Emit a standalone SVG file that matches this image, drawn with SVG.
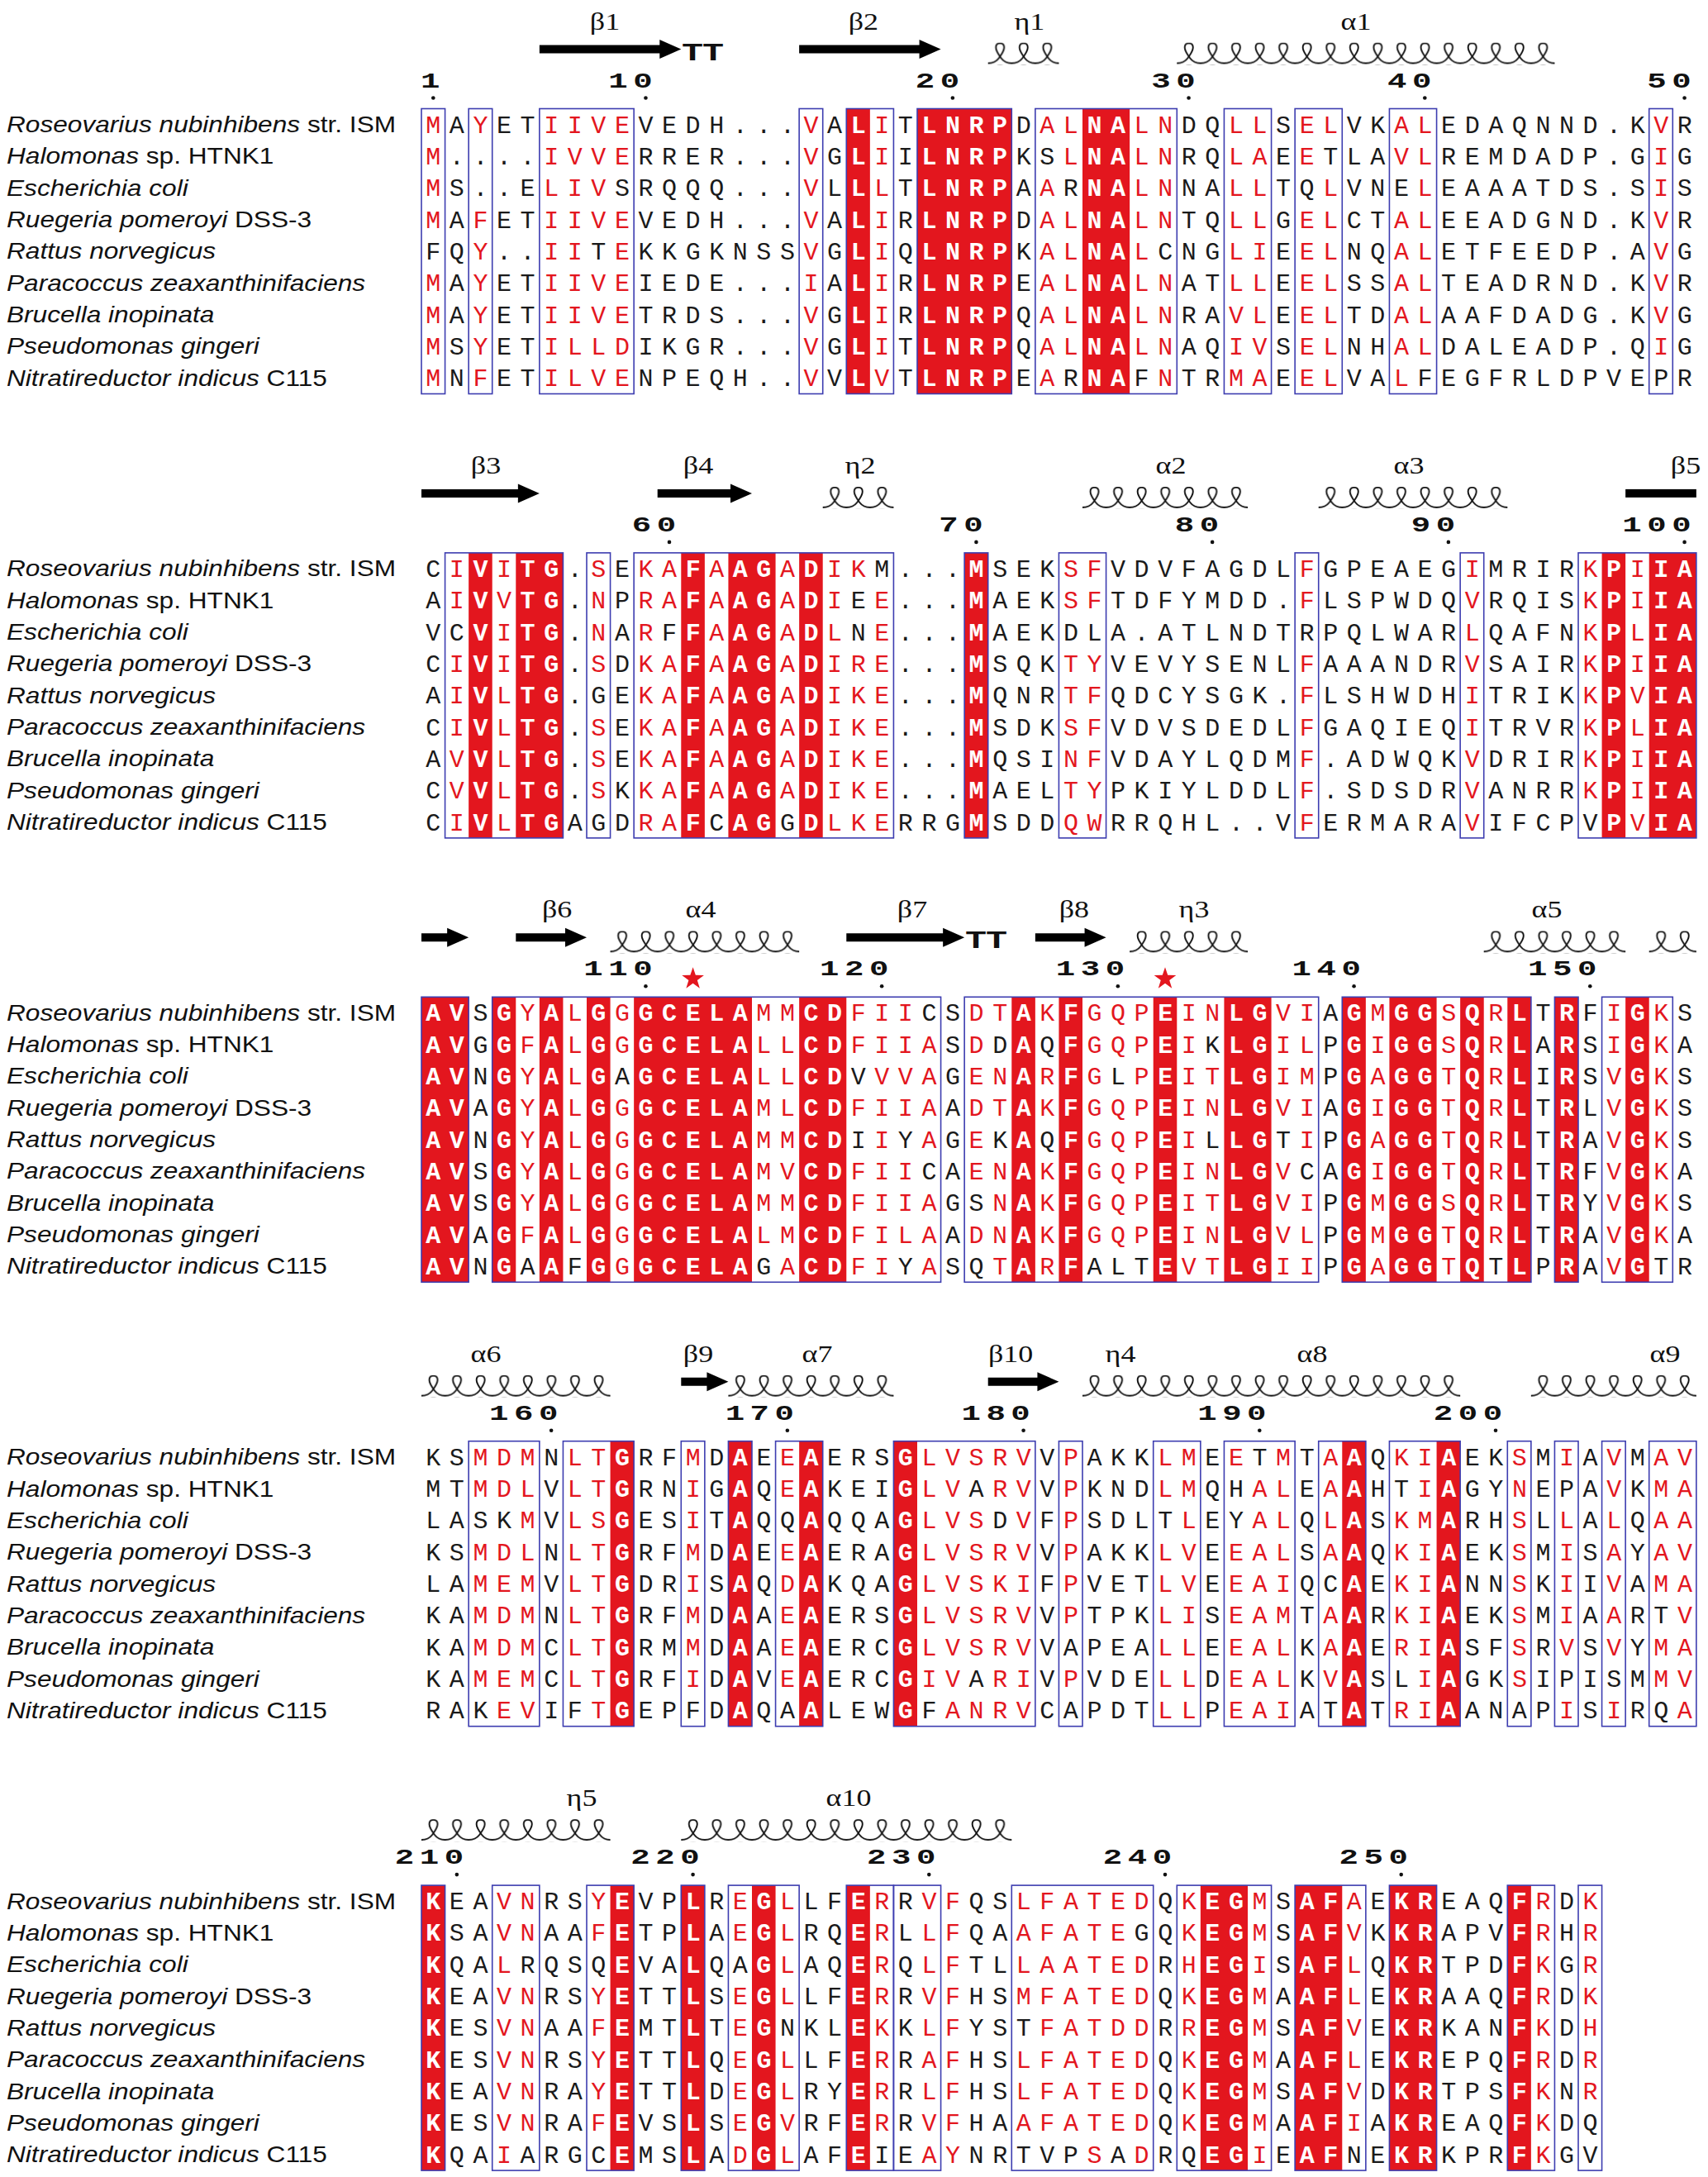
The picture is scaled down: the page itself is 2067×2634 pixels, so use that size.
<svg xmlns="http://www.w3.org/2000/svg" xmlns:xlink="http://www.w3.org/1999/xlink" width="2067" height="2634" viewBox="0 0 2067 2634">
<style>
.nm{font-family:"Liberation Sans",Arial,sans-serif;font-size:28px;fill:#111}
.it{font-style:italic}
.sq{font-family:"Liberation Mono","DejaVu Sans Mono",monospace;font-size:30px;letter-spacing:10.571px;fill:#1a1a1a}
.r{fill:#e3161e}
.w{fill:#fff;font-weight:bold}
.num{font-family:"Liberation Mono","DejaVu Sans Mono",monospace;font-size:26px;font-weight:bold;letter-spacing:4.4px;fill:#111}
.tt{font-family:"Liberation Mono","DejaVu Sans Mono",monospace;font-size:29px;font-weight:bold;text-anchor:middle;fill:#111}
.lbl{font-family:"Liberation Serif","DejaVu Serif",serif;font-size:30px;fill:#111;text-anchor:middle}
.red{fill:#e3161e}
.box{fill:none;stroke:#3d3db0;stroke-width:1.6}
.arr{fill:#000}
.coil{fill:url(#coil)}
.dot{fill:#111}
.star{fill:#e3161e}
</style>
<defs>
<pattern id="coil" patternUnits="userSpaceOnUse" x="510" y="-80" width="28.5714" height="27">
<path d="M0,25 C6,25 10,23 13,19 C16,15 19.5,10 19.5,6 C19.5,2.5 17.5,0.9 14.5,0.9 C11.5,0.9 9.5,2.5 9.5,6 C9.5,10 13,15 16,19 C19,23 23,25 28.6,25" fill="none" stroke="#111" stroke-width="1.9"/>
</pattern>
<path id="star" d="M0,-14 L3.23,-4.45 L13.32,-4.33 L5.23,1.7 L8.23,11.33 L0,5.5 L-8.23,11.33 L-5.23,1.7 L-13.32,-4.33 L-3.23,-4.45 Z"/>
<g id="names">
<text class="nm" y="28.5"><tspan class="it">Roseovarius nubinhibens</tspan> str. ISM</text>
<text class="nm" y="66.83"><tspan class="it">Halomonas</tspan> sp. HTNK1</text>
<text class="nm it" y="105.17">Escherichia coli</text>
<text class="nm" y="143.5"><tspan class="it">Ruegeria pomeroyi</tspan> DSS-3</text>
<text class="nm it" y="181.83">Rattus norvegicus</text>
<text class="nm it" y="220.17">Paracoccus zeaxanthinifaciens</text>
<text class="nm it" y="258.5">Brucella inopinata</text>
<text class="nm it" y="296.83">Pseudomonas gingeri</text>
<text class="nm" y="335.17"><tspan class="it">Nitratireductor indicus</tspan> C115</text>
</g>
</defs>
<rect x="0" y="0" width="2067" height="2634" fill="#fff"/>

<!-- ================= BLOCK 1 ================= -->
<g id="block1" transform="translate(0,131.5)">
<g id="ss1">
<path class="arr" d="M652.857,-77H798.286V-83.5L824.286,-72L798.286,-60.5V-67H652.857Z"/>
<path class="arr" d="M967.143,-77H1112.571V-83.5L1138.571,-72L1112.571,-60.5V-67H967.143Z"/>
<rect class="coil" x="1195.714" y="-80" width="85.714" height="27"/>
<rect class="coil" x="1424.286" y="-80" width="457.143" height="27"/>
<g transform="scale(1.2,1)">
<text class="lbl" x="610" y="-96">β1</text>
<text class="lbl" x="870.8" y="-96">β2</text>
<text class="lbl" x="1038.3" y="-96">η1</text>
<text class="lbl" x="1367.5" y="-96">α1</text>
</g>
</g>
<g id="cols1">
<rect class="red" x="1024.286" y="0" width="28.571" height="345"/>
<rect class="red" x="1110" y="0" width="114.286" height="345"/>
<rect class="red" x="1310" y="0" width="57.143" height="345"/>
</g>
<g id="boxes1">
<rect class="box" x="510" y="0" width="28.571" height="345"/>
<rect class="box" x="567.143" y="0" width="28.571" height="345"/>
<rect class="box" x="652.857" y="0" width="114.286" height="345"/>
<rect class="box" x="967.143" y="0" width="28.571" height="345"/>
<rect class="box" x="1024.286" y="0" width="57.143" height="345"/>
<rect class="box" x="1110" y="0" width="114.286" height="345"/>
<rect class="box" x="1252.857" y="0" width="171.429" height="345"/>
<rect class="box" x="1481.429" y="0" width="57.143" height="345"/>
<rect class="box" x="1567.143" y="0" width="57.143" height="345"/>
<rect class="box" x="1681.429" y="0" width="57.143" height="345"/>
<rect class="box" x="1995.714" y="0" width="28.571" height="345"/>
</g>
<g id="num1">
<circle class="dot" cx="524.29" cy="-13" r="2.3"/><circle class="dot" cx="781.43" cy="-13" r="2.3"/><circle class="dot" cx="1152.86" cy="-13" r="2.3"/><circle class="dot" cx="1438.57" cy="-13" r="2.3"/><circle class="dot" cx="1724.29" cy="-13" r="2.3"/><circle class="dot" cx="2038.57" cy="-13" r="2.3"/>
<g transform="scale(1.5,1)">
<text class="num" x="339.4" y="-26">1</text>
<text class="num" x="490.8" y="-26">10</text>
<text class="num" x="738.5" y="-26">20</text>
<text class="num" x="928.9" y="-26">30</text>
<text class="num" x="1119.4" y="-26">40</text>
<text class="num" x="1328.9" y="-26">50</text>
<text class="tt" x="558.7" y="-59">T</text>
<text class="tt" x="575.3" y="-59">T</text>
</g>
</g>
<g id="seq1">
<text class="sq" x="515.286" y="29"><tspan class="r">M</tspan>A<tspan class="r">Y</tspan>ET<tspan class="r">IIVE</tspan>VEDH...<tspan class="r">V</tspan>A<tspan class="w">L</tspan><tspan class="r">I</tspan>T<tspan class="w">LNRP</tspan>D<tspan class="r">AL</tspan><tspan class="w">NA</tspan><tspan class="r">LN</tspan>DQ<tspan class="r">LL</tspan>S<tspan class="r">EL</tspan>VK<tspan class="r">AL</tspan>EDAQNND.K<tspan class="r">V</tspan>R</text>
<text class="sq" x="515.286" y="67.33"><tspan class="r">M</tspan>....<tspan class="r">IVVE</tspan>RRER...<tspan class="r">V</tspan>G<tspan class="w">L</tspan><tspan class="r">I</tspan>I<tspan class="w">LNRP</tspan>KS<tspan class="r">L</tspan><tspan class="w">NA</tspan><tspan class="r">LN</tspan>RQ<tspan class="r">LA</tspan>E<tspan class="r">E</tspan>TLA<tspan class="r">VL</tspan>REMDADP.G<tspan class="r">I</tspan>G</text>
<text class="sq" x="515.286" y="105.67"><tspan class="r">M</tspan>S..E<tspan class="r">LIV</tspan>SRQQQ...<tspan class="r">V</tspan>L<tspan class="w">L</tspan><tspan class="r">L</tspan>T<tspan class="w">LNRP</tspan>A<tspan class="r">A</tspan>R<tspan class="w">NA</tspan><tspan class="r">LN</tspan>NA<tspan class="r">LL</tspan>TQ<tspan class="r">L</tspan>VNE<tspan class="r">L</tspan>EAAATDS.S<tspan class="r">I</tspan>S</text>
<text class="sq" x="515.286" y="144"><tspan class="r">M</tspan>A<tspan class="r">F</tspan>ET<tspan class="r">IIVE</tspan>VEDH...<tspan class="r">V</tspan>A<tspan class="w">L</tspan><tspan class="r">I</tspan>R<tspan class="w">LNRP</tspan>D<tspan class="r">AL</tspan><tspan class="w">NA</tspan><tspan class="r">LN</tspan>TQ<tspan class="r">LL</tspan>G<tspan class="r">EL</tspan>CT<tspan class="r">AL</tspan>EEADGND.K<tspan class="r">V</tspan>R</text>
<text class="sq" x="515.286" y="182.33">FQ<tspan class="r">Y</tspan>..<tspan class="r">II</tspan>T<tspan class="r">E</tspan>KKGKNSS<tspan class="r">V</tspan>G<tspan class="w">L</tspan><tspan class="r">I</tspan>Q<tspan class="w">LNRP</tspan>K<tspan class="r">AL</tspan><tspan class="w">NA</tspan><tspan class="r">L</tspan>CNG<tspan class="r">LI</tspan>E<tspan class="r">EL</tspan>NQ<tspan class="r">AL</tspan>ETFEEDP.A<tspan class="r">V</tspan>G</text>
<text class="sq" x="515.286" y="220.67"><tspan class="r">M</tspan>A<tspan class="r">Y</tspan>ET<tspan class="r">IIVE</tspan>IEDE...<tspan class="r">I</tspan>A<tspan class="w">L</tspan><tspan class="r">I</tspan>R<tspan class="w">LNRP</tspan>E<tspan class="r">AL</tspan><tspan class="w">NA</tspan><tspan class="r">LN</tspan>AT<tspan class="r">LL</tspan>E<tspan class="r">EL</tspan>SS<tspan class="r">AL</tspan>TEADRND.K<tspan class="r">V</tspan>R</text>
<text class="sq" x="515.286" y="259"><tspan class="r">M</tspan>A<tspan class="r">Y</tspan>ET<tspan class="r">IIVE</tspan>TRDS...<tspan class="r">V</tspan>G<tspan class="w">L</tspan><tspan class="r">I</tspan>R<tspan class="w">LNRP</tspan>Q<tspan class="r">AL</tspan><tspan class="w">NA</tspan><tspan class="r">LN</tspan>RA<tspan class="r">VL</tspan>E<tspan class="r">EL</tspan>TD<tspan class="r">AL</tspan>AAFDADG.K<tspan class="r">V</tspan>G</text>
<text class="sq" x="515.286" y="297.33"><tspan class="r">M</tspan>S<tspan class="r">Y</tspan>ET<tspan class="r">ILLD</tspan>IKGR...<tspan class="r">V</tspan>G<tspan class="w">L</tspan><tspan class="r">I</tspan>T<tspan class="w">LNRP</tspan>Q<tspan class="r">AL</tspan><tspan class="w">NA</tspan><tspan class="r">LN</tspan>AQ<tspan class="r">IV</tspan>S<tspan class="r">EL</tspan>NH<tspan class="r">AL</tspan>DALEADP.Q<tspan class="r">I</tspan>G</text>
<text class="sq" x="515.286" y="335.67"><tspan class="r">M</tspan>N<tspan class="r">F</tspan>ET<tspan class="r">ILVE</tspan>NPEQH..<tspan class="r">V</tspan>V<tspan class="w">L</tspan><tspan class="r">V</tspan>T<tspan class="w">LNRP</tspan>E<tspan class="r">A</tspan>R<tspan class="w">NA</tspan>F<tspan class="r">N</tspan>TR<tspan class="r">MA</tspan>E<tspan class="r">EL</tspan>VA<tspan class="r">L</tspan>FEGFRLDPVEPR</text>
</g>
<use xlink:href="#names" href="#names" transform="translate(8,0) scale(1.13,1)"/>
</g>

<!-- ================= BLOCK 2 ================= -->
<g id="block2" transform="translate(0,668.9)">
<g id="ss2">
<path class="arr" d="M510,-77H626.857V-83.5L652.857,-72L626.857,-60.5V-67H510Z"/>
<path class="arr" d="M795.714,-77H884V-83.5L910,-72L884,-60.5V-67H795.714Z"/>
<rect class="arr" x="1967.143" y="-77" width="85.714" height="10"/>
<rect class="coil" x="995.714" y="-80" width="85.714" height="27"/>
<rect class="coil" x="1310" y="-80" width="200" height="27"/>
<rect class="coil" x="1595.714" y="-80" width="228.571" height="27"/>
<g transform="scale(1.2,1)">
<text class="lbl" x="490" y="-96">β3</text>
<text class="lbl" x="704.2" y="-96">β4</text>
<text class="lbl" x="867.5" y="-96">η2</text>
<text class="lbl" x="1180.8" y="-96">α2</text>
<text class="lbl" x="1420.8" y="-96">α3</text>
<text class="lbl" x="1700" y="-96">β5</text>
</g>
</g>
<g id="cols2">
<rect class="red" x="567.143" y="0" width="28.571" height="345"/>
<rect class="red" x="624.286" y="0" width="57.143" height="345"/>
<rect class="red" x="824.286" y="0" width="28.571" height="345"/>
<rect class="red" x="881.429" y="0" width="57.143" height="345"/>
<rect class="red" x="967.143" y="0" width="28.571" height="345"/>
<rect class="red" x="1167.143" y="0" width="28.571" height="345"/>
<rect class="red" x="1938.571" y="0" width="28.571" height="345"/>
<rect class="red" x="1995.714" y="0" width="57.143" height="345"/>
</g>
<g id="boxes2">
<rect class="box" x="538.571" y="0" width="142.857" height="345"/>
<rect class="box" x="710" y="0" width="28.571" height="345"/>
<rect class="box" x="767.143" y="0" width="314.286" height="345"/>
<rect class="box" x="1167.143" y="0" width="28.571" height="345"/>
<rect class="box" x="1281.429" y="0" width="57.143" height="345"/>
<rect class="box" x="1567.143" y="0" width="28.571" height="345"/>
<rect class="box" x="1767.143" y="0" width="28.571" height="345"/>
<rect class="box" x="1910" y="0" width="142.857" height="345"/>
</g>
<g id="num2">
<circle class="dot" cx="810" cy="-13" r="2.3"/><circle class="dot" cx="1181.43" cy="-13" r="2.3"/><circle class="dot" cx="1467.14" cy="-13" r="2.3"/><circle class="dot" cx="1752.86" cy="-13" r="2.3"/><circle class="dot" cx="2038.57" cy="-13" r="2.3"/>
<g transform="scale(1.5,1)">
<text class="num" x="509.9" y="-26">60</text>
<text class="num" x="757.5" y="-26">70</text>
<text class="num" x="947.9" y="-26">80</text>
<text class="num" x="1138.5" y="-26">90</text>
<text class="num" x="1308.9" y="-26">100</text>
</g>
</g>
<g id="seq2">
<text class="sq" x="515.286" y="29">C<tspan class="r">I</tspan><tspan class="w">V</tspan><tspan class="r">I</tspan><tspan class="w">TG</tspan>.<tspan class="r">S</tspan>E<tspan class="r">KA</tspan><tspan class="w">F</tspan><tspan class="r">A</tspan><tspan class="w">AG</tspan><tspan class="r">A</tspan><tspan class="w">D</tspan><tspan class="r">IK</tspan>M...<tspan class="w">M</tspan>SEK<tspan class="r">SF</tspan>VDVFAGDL<tspan class="r">F</tspan>GPEAEG<tspan class="r">I</tspan>MRIR<tspan class="r">K</tspan><tspan class="w">P</tspan><tspan class="r">I</tspan><tspan class="w">IA</tspan></text>
<text class="sq" x="515.286" y="67.33">A<tspan class="r">I</tspan><tspan class="w">V</tspan><tspan class="r">V</tspan><tspan class="w">TG</tspan>.<tspan class="r">N</tspan>P<tspan class="r">RA</tspan><tspan class="w">F</tspan><tspan class="r">A</tspan><tspan class="w">AG</tspan><tspan class="r">A</tspan><tspan class="w">D</tspan><tspan class="r">I</tspan>E<tspan class="r">E</tspan>...<tspan class="w">M</tspan>AEK<tspan class="r">SF</tspan>TDFYMDD.<tspan class="r">F</tspan>LSPWDQ<tspan class="r">V</tspan>RQIS<tspan class="r">K</tspan><tspan class="w">P</tspan><tspan class="r">I</tspan><tspan class="w">IA</tspan></text>
<text class="sq" x="515.286" y="105.67">VC<tspan class="w">V</tspan><tspan class="r">I</tspan><tspan class="w">TG</tspan>.<tspan class="r">N</tspan>A<tspan class="r">R</tspan>F<tspan class="w">F</tspan><tspan class="r">A</tspan><tspan class="w">AG</tspan><tspan class="r">A</tspan><tspan class="w">D</tspan><tspan class="r">L</tspan>N<tspan class="r">E</tspan>...<tspan class="w">M</tspan>AEKDLA.ATLNDTRPQLWAR<tspan class="r">L</tspan>QAFN<tspan class="r">K</tspan><tspan class="w">P</tspan><tspan class="r">L</tspan><tspan class="w">IA</tspan></text>
<text class="sq" x="515.286" y="144">C<tspan class="r">I</tspan><tspan class="w">V</tspan><tspan class="r">I</tspan><tspan class="w">TG</tspan>.<tspan class="r">S</tspan>D<tspan class="r">KA</tspan><tspan class="w">F</tspan><tspan class="r">A</tspan><tspan class="w">AG</tspan><tspan class="r">A</tspan><tspan class="w">D</tspan><tspan class="r">IRE</tspan>...<tspan class="w">M</tspan>SQK<tspan class="r">TY</tspan>VEVYSENL<tspan class="r">F</tspan>AAANDR<tspan class="r">V</tspan>SAIR<tspan class="r">K</tspan><tspan class="w">P</tspan><tspan class="r">I</tspan><tspan class="w">IA</tspan></text>
<text class="sq" x="515.286" y="182.33">A<tspan class="r">I</tspan><tspan class="w">V</tspan><tspan class="r">L</tspan><tspan class="w">TG</tspan>.GE<tspan class="r">KA</tspan><tspan class="w">F</tspan><tspan class="r">A</tspan><tspan class="w">AG</tspan><tspan class="r">A</tspan><tspan class="w">D</tspan><tspan class="r">IKE</tspan>...<tspan class="w">M</tspan>QNR<tspan class="r">TF</tspan>QDCYSGK.<tspan class="r">F</tspan>LSHWDH<tspan class="r">I</tspan>TRIK<tspan class="r">K</tspan><tspan class="w">P</tspan><tspan class="r">V</tspan><tspan class="w">IA</tspan></text>
<text class="sq" x="515.286" y="220.67">C<tspan class="r">I</tspan><tspan class="w">V</tspan><tspan class="r">L</tspan><tspan class="w">TG</tspan>.<tspan class="r">S</tspan>E<tspan class="r">KA</tspan><tspan class="w">F</tspan><tspan class="r">A</tspan><tspan class="w">AG</tspan><tspan class="r">A</tspan><tspan class="w">D</tspan><tspan class="r">IKE</tspan>...<tspan class="w">M</tspan>SDK<tspan class="r">SF</tspan>VDVSDEDL<tspan class="r">F</tspan>GAQIEQ<tspan class="r">I</tspan>TRVR<tspan class="r">K</tspan><tspan class="w">P</tspan><tspan class="r">L</tspan><tspan class="w">IA</tspan></text>
<text class="sq" x="515.286" y="259">A<tspan class="r">V</tspan><tspan class="w">V</tspan><tspan class="r">L</tspan><tspan class="w">TG</tspan>.<tspan class="r">S</tspan>E<tspan class="r">KA</tspan><tspan class="w">F</tspan><tspan class="r">A</tspan><tspan class="w">AG</tspan><tspan class="r">A</tspan><tspan class="w">D</tspan><tspan class="r">IKE</tspan>...<tspan class="w">M</tspan>QSI<tspan class="r">NF</tspan>VDAYLQDM<tspan class="r">F</tspan>.ADWQK<tspan class="r">V</tspan>DRIR<tspan class="r">K</tspan><tspan class="w">P</tspan><tspan class="r">I</tspan><tspan class="w">IA</tspan></text>
<text class="sq" x="515.286" y="297.33">C<tspan class="r">V</tspan><tspan class="w">V</tspan><tspan class="r">L</tspan><tspan class="w">TG</tspan>.<tspan class="r">S</tspan>K<tspan class="r">KA</tspan><tspan class="w">F</tspan><tspan class="r">A</tspan><tspan class="w">AG</tspan><tspan class="r">A</tspan><tspan class="w">D</tspan><tspan class="r">IKE</tspan>...<tspan class="w">M</tspan>AEL<tspan class="r">TY</tspan>PKIYLDDL<tspan class="r">F</tspan>.SDSDR<tspan class="r">V</tspan>ANRR<tspan class="r">K</tspan><tspan class="w">P</tspan><tspan class="r">I</tspan><tspan class="w">IA</tspan></text>
<text class="sq" x="515.286" y="335.67">C<tspan class="r">I</tspan><tspan class="w">V</tspan><tspan class="r">L</tspan><tspan class="w">TG</tspan>AGD<tspan class="r">RA</tspan><tspan class="w">F</tspan>C<tspan class="w">AG</tspan>G<tspan class="w">D</tspan><tspan class="r">LKE</tspan>RRG<tspan class="w">M</tspan>SDD<tspan class="r">QW</tspan>RRQHL..V<tspan class="r">F</tspan>ERMARA<tspan class="r">V</tspan>IFCPV<tspan class="w">P</tspan><tspan class="r">V</tspan><tspan class="w">IA</tspan></text>
</g>
<use xlink:href="#names" href="#names" transform="translate(8,0) scale(1.13,1)"/>
</g>

<!-- ================= BLOCK 3 ================= -->
<g id="block3" transform="translate(0,1206.3)">
<g id="ss3">
<path class="arr" d="M510,-77H541.143V-83.5L567.143,-72L541.143,-60.5V-67H510Z"/>
<path class="arr" d="M624.286,-77H684V-83.5L710,-72L684,-60.5V-67H624.286Z"/>
<path class="arr" d="M1024.286,-77H1141.143V-83.5L1167.143,-72L1141.143,-60.5V-67H1024.286Z"/>
<path class="arr" d="M1252.857,-77H1312.571V-83.5L1338.571,-72L1312.571,-60.5V-67H1252.857Z"/>
<rect class="coil" x="738.571" y="-80" width="228.571" height="27"/>
<rect class="coil" x="1367.143" y="-80" width="142.857" height="27"/>
<rect class="coil" x="1795.714" y="-80" width="171.429" height="27"/>
<rect class="coil" x="1995.714" y="-80" width="57.143" height="27"/>
<g transform="scale(1.2,1)">
<text class="lbl" x="561.7" y="-96">β6</text>
<text class="lbl" x="706.7" y="-96">α4</text>
<text class="lbl" x="920" y="-96">β7</text>
<text class="lbl" x="1083.3" y="-96">β8</text>
<text class="lbl" x="1204.2" y="-96">η3</text>
<text class="lbl" x="1560" y="-96">α5</text>
</g>
<use class="star" xlink:href="#star" href="#star" x="838.6" y="-22"/>
<use class="star" xlink:href="#star" href="#star" x="1410" y="-22"/>
</g>
<g id="cols3">
<rect class="red" x="510" y="0" width="57.143" height="345"/>
<rect class="red" x="595.714" y="0" width="28.571" height="345"/>
<rect class="red" x="652.857" y="0" width="28.571" height="345"/>
<rect class="red" x="710" y="0" width="28.571" height="345"/>
<rect class="red" x="767.143" y="0" width="142.857" height="345"/>
<rect class="red" x="967.143" y="0" width="57.143" height="345"/>
<rect class="red" x="1224.286" y="0" width="28.571" height="345"/>
<rect class="red" x="1281.429" y="0" width="28.571" height="345"/>
<rect class="red" x="1395.714" y="0" width="28.571" height="345"/>
<rect class="red" x="1481.429" y="0" width="57.143" height="345"/>
<rect class="red" x="1624.286" y="0" width="28.571" height="345"/>
<rect class="red" x="1681.429" y="0" width="57.143" height="345"/>
<rect class="red" x="1767.143" y="0" width="28.571" height="345"/>
<rect class="red" x="1824.286" y="0" width="28.571" height="345"/>
<rect class="red" x="1881.429" y="0" width="28.571" height="345"/>
<rect class="red" x="1967.143" y="0" width="28.571" height="345"/>
</g>
<g id="boxes3">
<rect class="box" x="510" y="0" width="57.143" height="345"/>
<rect class="box" x="595.714" y="0" width="542.857" height="345"/>
<rect class="box" x="1167.143" y="0" width="428.571" height="345"/>
<rect class="box" x="1624.286" y="0" width="228.571" height="345"/>
<rect class="box" x="1881.429" y="0" width="28.571" height="345"/>
<rect class="box" x="1938.571" y="0" width="85.714" height="345"/>
</g>
<g id="num3">
<circle class="dot" cx="781.43" cy="-13" r="2.3"/><circle class="dot" cx="1067.14" cy="-13" r="2.3"/><circle class="dot" cx="1352.86" cy="-13" r="2.3"/><circle class="dot" cx="1638.57" cy="-13" r="2.3"/><circle class="dot" cx="1924.29" cy="-13" r="2.3"/>
<g transform="scale(1.5,1)">
<text class="num" x="470.8" y="-26">110</text>
<text class="num" x="661.3" y="-26">120</text>
<text class="num" x="851.8" y="-26">130</text>
<text class="num" x="1042.3" y="-26">140</text>
<text class="num" x="1232.7" y="-26">150</text>
<text class="tt" x="787.3" y="-59">T</text>
<text class="tt" x="804" y="-59">T</text>
</g>
</g>
<g id="seq3">
<text class="sq" x="515.286" y="29"><tspan class="w">AV</tspan>S<tspan class="w">G</tspan><tspan class="r">Y</tspan><tspan class="w">A</tspan><tspan class="r">L</tspan><tspan class="w">G</tspan><tspan class="r">G</tspan><tspan class="w">GCELA</tspan><tspan class="r">MM</tspan><tspan class="w">CD</tspan><tspan class="r">FII</tspan>CS<tspan class="r">DT</tspan><tspan class="w">A</tspan><tspan class="r">K</tspan><tspan class="w">F</tspan><tspan class="r">GQP</tspan><tspan class="w">E</tspan><tspan class="r">IN</tspan><tspan class="w">LG</tspan><tspan class="r">VI</tspan>A<tspan class="w">G</tspan><tspan class="r">M</tspan><tspan class="w">GG</tspan><tspan class="r">S</tspan><tspan class="w">Q</tspan><tspan class="r">R</tspan><tspan class="w">L</tspan>T<tspan class="w">R</tspan>F<tspan class="r">I</tspan><tspan class="w">G</tspan><tspan class="r">K</tspan>S</text>
<text class="sq" x="515.286" y="67.33"><tspan class="w">AV</tspan>G<tspan class="w">G</tspan><tspan class="r">F</tspan><tspan class="w">A</tspan><tspan class="r">L</tspan><tspan class="w">G</tspan><tspan class="r">G</tspan><tspan class="w">GCELA</tspan><tspan class="r">LL</tspan><tspan class="w">CD</tspan><tspan class="r">FIIA</tspan>S<tspan class="r">D</tspan>D<tspan class="w">A</tspan>Q<tspan class="w">F</tspan><tspan class="r">GQP</tspan><tspan class="w">E</tspan><tspan class="r">I</tspan>K<tspan class="w">LG</tspan><tspan class="r">IL</tspan>P<tspan class="w">G</tspan><tspan class="r">I</tspan><tspan class="w">GG</tspan><tspan class="r">S</tspan><tspan class="w">Q</tspan><tspan class="r">R</tspan><tspan class="w">L</tspan>A<tspan class="w">R</tspan>S<tspan class="r">I</tspan><tspan class="w">G</tspan><tspan class="r">K</tspan>A</text>
<text class="sq" x="515.286" y="105.67"><tspan class="w">AV</tspan>N<tspan class="w">G</tspan><tspan class="r">Y</tspan><tspan class="w">A</tspan><tspan class="r">L</tspan><tspan class="w">G</tspan>A<tspan class="w">GCELA</tspan><tspan class="r">LL</tspan><tspan class="w">CD</tspan>V<tspan class="r">VVA</tspan>G<tspan class="r">EN</tspan><tspan class="w">A</tspan><tspan class="r">R</tspan><tspan class="w">F</tspan><tspan class="r">G</tspan>L<tspan class="r">P</tspan><tspan class="w">E</tspan><tspan class="r">IT</tspan><tspan class="w">LG</tspan><tspan class="r">IM</tspan>P<tspan class="w">G</tspan><tspan class="r">A</tspan><tspan class="w">GG</tspan><tspan class="r">T</tspan><tspan class="w">Q</tspan><tspan class="r">R</tspan><tspan class="w">L</tspan>I<tspan class="w">R</tspan>S<tspan class="r">V</tspan><tspan class="w">G</tspan><tspan class="r">K</tspan>S</text>
<text class="sq" x="515.286" y="144"><tspan class="w">AV</tspan>A<tspan class="w">G</tspan><tspan class="r">Y</tspan><tspan class="w">A</tspan><tspan class="r">L</tspan><tspan class="w">G</tspan><tspan class="r">G</tspan><tspan class="w">GCELA</tspan><tspan class="r">ML</tspan><tspan class="w">CD</tspan><tspan class="r">FIIA</tspan>A<tspan class="r">DT</tspan><tspan class="w">A</tspan><tspan class="r">K</tspan><tspan class="w">F</tspan><tspan class="r">GQP</tspan><tspan class="w">E</tspan><tspan class="r">IN</tspan><tspan class="w">LG</tspan><tspan class="r">VI</tspan>A<tspan class="w">G</tspan><tspan class="r">I</tspan><tspan class="w">GG</tspan><tspan class="r">T</tspan><tspan class="w">Q</tspan><tspan class="r">R</tspan><tspan class="w">L</tspan>T<tspan class="w">R</tspan>L<tspan class="r">V</tspan><tspan class="w">G</tspan><tspan class="r">K</tspan>S</text>
<text class="sq" x="515.286" y="182.33"><tspan class="w">AV</tspan>N<tspan class="w">G</tspan><tspan class="r">Y</tspan><tspan class="w">A</tspan><tspan class="r">L</tspan><tspan class="w">G</tspan><tspan class="r">G</tspan><tspan class="w">GCELA</tspan><tspan class="r">MM</tspan><tspan class="w">CD</tspan>I<tspan class="r">I</tspan>Y<tspan class="r">A</tspan>G<tspan class="r">E</tspan>K<tspan class="w">A</tspan>Q<tspan class="w">F</tspan><tspan class="r">GQP</tspan><tspan class="w">E</tspan><tspan class="r">I</tspan>L<tspan class="w">LG</tspan>T<tspan class="r">I</tspan>P<tspan class="w">G</tspan><tspan class="r">A</tspan><tspan class="w">GG</tspan><tspan class="r">T</tspan><tspan class="w">Q</tspan><tspan class="r">R</tspan><tspan class="w">L</tspan>T<tspan class="w">R</tspan>A<tspan class="r">V</tspan><tspan class="w">G</tspan><tspan class="r">K</tspan>S</text>
<text class="sq" x="515.286" y="220.67"><tspan class="w">AV</tspan>S<tspan class="w">G</tspan><tspan class="r">Y</tspan><tspan class="w">A</tspan><tspan class="r">L</tspan><tspan class="w">G</tspan><tspan class="r">G</tspan><tspan class="w">GCELA</tspan><tspan class="r">MV</tspan><tspan class="w">CD</tspan><tspan class="r">FII</tspan>CA<tspan class="r">EN</tspan><tspan class="w">A</tspan><tspan class="r">K</tspan><tspan class="w">F</tspan><tspan class="r">GQP</tspan><tspan class="w">E</tspan><tspan class="r">IN</tspan><tspan class="w">LG</tspan><tspan class="r">V</tspan>CA<tspan class="w">G</tspan><tspan class="r">I</tspan><tspan class="w">GG</tspan><tspan class="r">T</tspan><tspan class="w">Q</tspan><tspan class="r">R</tspan><tspan class="w">L</tspan>T<tspan class="w">R</tspan>F<tspan class="r">V</tspan><tspan class="w">G</tspan><tspan class="r">K</tspan>A</text>
<text class="sq" x="515.286" y="259"><tspan class="w">AV</tspan>S<tspan class="w">G</tspan><tspan class="r">Y</tspan><tspan class="w">A</tspan><tspan class="r">L</tspan><tspan class="w">G</tspan><tspan class="r">G</tspan><tspan class="w">GCELA</tspan><tspan class="r">MM</tspan><tspan class="w">CD</tspan><tspan class="r">FIIA</tspan>GS<tspan class="r">N</tspan><tspan class="w">A</tspan><tspan class="r">K</tspan><tspan class="w">F</tspan><tspan class="r">GQP</tspan><tspan class="w">E</tspan><tspan class="r">IT</tspan><tspan class="w">LG</tspan><tspan class="r">VI</tspan>P<tspan class="w">G</tspan><tspan class="r">M</tspan><tspan class="w">GG</tspan><tspan class="r">S</tspan><tspan class="w">Q</tspan><tspan class="r">R</tspan><tspan class="w">L</tspan>T<tspan class="w">R</tspan>Y<tspan class="r">V</tspan><tspan class="w">G</tspan><tspan class="r">K</tspan>S</text>
<text class="sq" x="515.286" y="297.33"><tspan class="w">AV</tspan>A<tspan class="w">G</tspan><tspan class="r">F</tspan><tspan class="w">A</tspan><tspan class="r">L</tspan><tspan class="w">G</tspan><tspan class="r">G</tspan><tspan class="w">GCELA</tspan><tspan class="r">LM</tspan><tspan class="w">CD</tspan><tspan class="r">FILA</tspan>A<tspan class="r">DN</tspan><tspan class="w">A</tspan><tspan class="r">K</tspan><tspan class="w">F</tspan><tspan class="r">GQP</tspan><tspan class="w">E</tspan><tspan class="r">IN</tspan><tspan class="w">LG</tspan><tspan class="r">VL</tspan>P<tspan class="w">G</tspan><tspan class="r">M</tspan><tspan class="w">GG</tspan><tspan class="r">T</tspan><tspan class="w">Q</tspan><tspan class="r">R</tspan><tspan class="w">L</tspan>T<tspan class="w">R</tspan>A<tspan class="r">V</tspan><tspan class="w">G</tspan><tspan class="r">K</tspan>A</text>
<text class="sq" x="515.286" y="335.67"><tspan class="w">AV</tspan>N<tspan class="w">G</tspan>A<tspan class="w">A</tspan>F<tspan class="w">G</tspan><tspan class="r">G</tspan><tspan class="w">GCELA</tspan>G<tspan class="r">A</tspan><tspan class="w">CD</tspan><tspan class="r">FI</tspan>Y<tspan class="r">A</tspan>SQ<tspan class="r">T</tspan><tspan class="w">A</tspan><tspan class="r">R</tspan><tspan class="w">F</tspan>ALT<tspan class="w">E</tspan><tspan class="r">VT</tspan><tspan class="w">LG</tspan><tspan class="r">II</tspan>P<tspan class="w">G</tspan><tspan class="r">A</tspan><tspan class="w">GG</tspan><tspan class="r">T</tspan><tspan class="w">Q</tspan>T<tspan class="w">L</tspan>P<tspan class="w">R</tspan>A<tspan class="r">V</tspan><tspan class="w">G</tspan>TR</text>
</g>
<use xlink:href="#names" href="#names" transform="translate(8,0) scale(1.13,1)"/>
</g>

<!-- ================= BLOCK 4 ================= -->
<g id="block4" transform="translate(0,1743.7)">
<g id="ss4">
<path class="arr" d="M824.286,-77H855.429V-83.5L881.429,-72L855.429,-60.5V-67H824.286Z"/>
<path class="arr" d="M1195.714,-77H1255.429V-83.5L1281.429,-72L1255.429,-60.5V-67H1195.714Z"/>
<rect class="coil" x="510" y="-80" width="228.571" height="27"/>
<rect class="coil" x="881.429" y="-80" width="200" height="27"/>
<rect class="coil" x="1310" y="-80" width="457.143" height="27"/>
<rect class="coil" x="1852.857" y="-80" width="200" height="27"/>
<g transform="scale(1.2,1)">
<text class="lbl" x="490" y="-96">α6</text>
<text class="lbl" x="704.2" y="-96">β9</text>
<text class="lbl" x="824.2" y="-96">α7</text>
<text class="lbl" x="1019.2" y="-96">β10</text>
<text class="lbl" x="1130" y="-96">η4</text>
<text class="lbl" x="1323.3" y="-96">α8</text>
<text class="lbl" x="1679.2" y="-96">α9</text>
</g>
</g>
<g id="cols4">
<rect class="red" x="738.571" y="0" width="28.571" height="345"/>
<rect class="red" x="881.429" y="0" width="28.571" height="345"/>
<rect class="red" x="967.143" y="0" width="28.571" height="345"/>
<rect class="red" x="1081.429" y="0" width="28.571" height="345"/>
<rect class="red" x="1624.286" y="0" width="28.571" height="345"/>
<rect class="red" x="1738.571" y="0" width="28.571" height="345"/>
</g>
<g id="boxes4">
<rect class="box" x="567.143" y="0" width="85.714" height="345"/>
<rect class="box" x="681.429" y="0" width="85.714" height="345"/>
<rect class="box" x="824.286" y="0" width="28.571" height="345"/>
<rect class="box" x="881.429" y="0" width="28.571" height="345"/>
<rect class="box" x="938.571" y="0" width="57.143" height="345"/>
<rect class="box" x="1081.429" y="0" width="171.429" height="345"/>
<rect class="box" x="1281.429" y="0" width="28.571" height="345"/>
<rect class="box" x="1395.714" y="0" width="57.143" height="345"/>
<rect class="box" x="1481.429" y="0" width="85.714" height="345"/>
<rect class="box" x="1595.714" y="0" width="57.143" height="345"/>
<rect class="box" x="1681.429" y="0" width="85.714" height="345"/>
<rect class="box" x="1824.286" y="0" width="28.571" height="345"/>
<rect class="box" x="1881.429" y="0" width="28.571" height="345"/>
<rect class="box" x="1938.571" y="0" width="28.571" height="345"/>
<rect class="box" x="1995.714" y="0" width="57.143" height="345"/>
</g>
<g id="num4">
<circle class="dot" cx="667.14" cy="-13" r="2.3"/><circle class="dot" cx="952.86" cy="-13" r="2.3"/><circle class="dot" cx="1238.57" cy="-13" r="2.3"/><circle class="dot" cx="1524.29" cy="-13" r="2.3"/><circle class="dot" cx="1810" cy="-13" r="2.3"/>
<g transform="scale(1.5,1)">
<text class="num" x="394.6" y="-26">160</text>
<text class="num" x="585.1" y="-26">170</text>
<text class="num" x="775.6" y="-26">180</text>
<text class="num" x="966.1" y="-26">190</text>
<text class="num" x="1156.5" y="-26">200</text>
</g>
</g>
<g id="seq4">
<text class="sq" x="515.286" y="29">KS<tspan class="r">MDM</tspan>N<tspan class="r">LT</tspan><tspan class="w">G</tspan>RF<tspan class="r">M</tspan>D<tspan class="w">A</tspan>E<tspan class="r">E</tspan><tspan class="w">A</tspan>ERS<tspan class="w">G</tspan><tspan class="r">LVSRV</tspan>V<tspan class="r">P</tspan>AKK<tspan class="r">LM</tspan>E<tspan class="r">E</tspan>T<tspan class="r">M</tspan>T<tspan class="r">A</tspan><tspan class="w">A</tspan>Q<tspan class="r">KI</tspan><tspan class="w">A</tspan>EK<tspan class="r">S</tspan>M<tspan class="r">I</tspan>A<tspan class="r">V</tspan>M<tspan class="r">AV</tspan></text>
<text class="sq" x="515.286" y="67.33">MT<tspan class="r">MDL</tspan>V<tspan class="r">LT</tspan><tspan class="w">G</tspan>RN<tspan class="r">I</tspan>G<tspan class="w">A</tspan>Q<tspan class="r">E</tspan><tspan class="w">A</tspan>KEI<tspan class="w">G</tspan><tspan class="r">LV</tspan>A<tspan class="r">RV</tspan>V<tspan class="r">P</tspan>KND<tspan class="r">LM</tspan>QH<tspan class="r">AL</tspan>E<tspan class="r">A</tspan><tspan class="w">A</tspan>HT<tspan class="r">I</tspan><tspan class="w">A</tspan>GY<tspan class="r">N</tspan>EPA<tspan class="r">V</tspan>K<tspan class="r">MA</tspan></text>
<text class="sq" x="515.286" y="105.67">LASK<tspan class="r">M</tspan>V<tspan class="r">LS</tspan><tspan class="w">G</tspan>ES<tspan class="r">I</tspan>T<tspan class="w">A</tspan>QQ<tspan class="w">A</tspan>QQA<tspan class="w">G</tspan><tspan class="r">LVS</tspan>D<tspan class="r">V</tspan>F<tspan class="r">P</tspan>SDLT<tspan class="r">L</tspan>EY<tspan class="r">AL</tspan>Q<tspan class="r">L</tspan><tspan class="w">A</tspan>S<tspan class="r">KM</tspan><tspan class="w">A</tspan>RH<tspan class="r">S</tspan>L<tspan class="r">L</tspan>A<tspan class="r">L</tspan>Q<tspan class="r">AA</tspan></text>
<text class="sq" x="515.286" y="144">KS<tspan class="r">MDL</tspan>N<tspan class="r">LT</tspan><tspan class="w">G</tspan>RF<tspan class="r">M</tspan>D<tspan class="w">A</tspan>E<tspan class="r">E</tspan><tspan class="w">A</tspan>ERA<tspan class="w">G</tspan><tspan class="r">LVSRV</tspan>V<tspan class="r">P</tspan>AKK<tspan class="r">LV</tspan>E<tspan class="r">EAL</tspan>S<tspan class="r">A</tspan><tspan class="w">A</tspan>Q<tspan class="r">KI</tspan><tspan class="w">A</tspan>EK<tspan class="r">S</tspan>M<tspan class="r">I</tspan>S<tspan class="r">A</tspan>Y<tspan class="r">AV</tspan></text>
<text class="sq" x="515.286" y="182.33">LA<tspan class="r">MEM</tspan>V<tspan class="r">LT</tspan><tspan class="w">G</tspan>DR<tspan class="r">I</tspan>S<tspan class="w">A</tspan>Q<tspan class="r">D</tspan><tspan class="w">A</tspan>KQA<tspan class="w">G</tspan><tspan class="r">LVSKI</tspan>F<tspan class="r">P</tspan>VET<tspan class="r">LV</tspan>E<tspan class="r">EAI</tspan>QC<tspan class="w">A</tspan>E<tspan class="r">KI</tspan><tspan class="w">A</tspan>NN<tspan class="r">S</tspan>K<tspan class="r">I</tspan>I<tspan class="r">V</tspan>A<tspan class="r">MA</tspan></text>
<text class="sq" x="515.286" y="220.67">KA<tspan class="r">MDM</tspan>N<tspan class="r">LT</tspan><tspan class="w">G</tspan>RF<tspan class="r">M</tspan>D<tspan class="w">A</tspan>A<tspan class="r">E</tspan><tspan class="w">A</tspan>ERS<tspan class="w">G</tspan><tspan class="r">LVSRV</tspan>V<tspan class="r">P</tspan>TPK<tspan class="r">LI</tspan>S<tspan class="r">EAM</tspan>T<tspan class="r">A</tspan><tspan class="w">A</tspan>R<tspan class="r">KI</tspan><tspan class="w">A</tspan>EK<tspan class="r">S</tspan>M<tspan class="r">I</tspan>A<tspan class="r">A</tspan>RT<tspan class="r">V</tspan></text>
<text class="sq" x="515.286" y="259">KA<tspan class="r">MDM</tspan>C<tspan class="r">LT</tspan><tspan class="w">G</tspan>RM<tspan class="r">M</tspan>D<tspan class="w">A</tspan>A<tspan class="r">E</tspan><tspan class="w">A</tspan>ERC<tspan class="w">G</tspan><tspan class="r">LVSRV</tspan>VAPEA<tspan class="r">LL</tspan>E<tspan class="r">EAL</tspan>K<tspan class="r">A</tspan><tspan class="w">A</tspan>E<tspan class="r">RI</tspan><tspan class="w">A</tspan>SF<tspan class="r">S</tspan>R<tspan class="r">V</tspan>S<tspan class="r">V</tspan>Y<tspan class="r">MA</tspan></text>
<text class="sq" x="515.286" y="297.33">KA<tspan class="r">MEM</tspan>C<tspan class="r">LT</tspan><tspan class="w">G</tspan>RF<tspan class="r">I</tspan>D<tspan class="w">A</tspan>V<tspan class="r">E</tspan><tspan class="w">A</tspan>ERC<tspan class="w">G</tspan><tspan class="r">IV</tspan>A<tspan class="r">RI</tspan>V<tspan class="r">P</tspan>VDE<tspan class="r">LL</tspan>D<tspan class="r">EAL</tspan>K<tspan class="r">V</tspan><tspan class="w">A</tspan>SL<tspan class="r">I</tspan><tspan class="w">A</tspan>GK<tspan class="r">S</tspan>IPISM<tspan class="r">MV</tspan></text>
<text class="sq" x="515.286" y="335.67">RAK<tspan class="r">EV</tspan>IF<tspan class="r">T</tspan><tspan class="w">G</tspan>EPFD<tspan class="w">A</tspan>QA<tspan class="w">A</tspan>LEW<tspan class="w">G</tspan>F<tspan class="r">ANRV</tspan>CAPDT<tspan class="r">LL</tspan>P<tspan class="r">EAI</tspan>AT<tspan class="w">A</tspan>T<tspan class="r">RI</tspan><tspan class="w">A</tspan>ANAP<tspan class="r">I</tspan>S<tspan class="r">I</tspan>RQ<tspan class="r">A</tspan></text>
</g>
<use xlink:href="#names" href="#names" transform="translate(8,0) scale(1.13,1)"/>
</g>

<!-- ================= BLOCK 5 ================= -->
<g id="block5" transform="translate(0,2281.1)">
<g id="ss5">
<rect class="coil" x="510" y="-80" width="228.571" height="27"/>
<rect class="coil" x="824.286" y="-80" width="400" height="27"/>
<g transform="scale(1.2,1)">
<text class="lbl" x="586.7" y="-96">η5</text>
<text class="lbl" x="855.8" y="-96">α10</text>
</g>
</g>
<g id="cols5">
<rect class="red" x="510" y="0" width="28.571" height="345"/>
<rect class="red" x="738.571" y="0" width="28.571" height="345"/>
<rect class="red" x="824.286" y="0" width="28.571" height="345"/>
<rect class="red" x="910" y="0" width="28.571" height="345"/>
<rect class="red" x="1024.286" y="0" width="28.571" height="345"/>
<rect class="red" x="1452.857" y="0" width="57.143" height="345"/>
<rect class="red" x="1567.143" y="0" width="57.143" height="345"/>
<rect class="red" x="1681.429" y="0" width="57.143" height="345"/>
<rect class="red" x="1824.286" y="0" width="28.571" height="345"/>
</g>
<g id="boxes5">
<rect class="box" x="510" y="0" width="28.571" height="345"/>
<rect class="box" x="595.714" y="0" width="57.143" height="345"/>
<rect class="box" x="710" y="0" width="57.143" height="345"/>
<rect class="box" x="824.286" y="0" width="28.571" height="345"/>
<rect class="box" x="881.429" y="0" width="85.714" height="345"/>
<rect class="box" x="1024.286" y="0" width="57.143" height="345"/>
<rect class="box" x="1081.429" y="0" width="57.143" height="345"/>
<rect class="box" x="1224.286" y="0" width="171.429" height="345"/>
<rect class="box" x="1424.286" y="0" width="114.286" height="345"/>
<rect class="box" x="1567.143" y="0" width="85.714" height="345"/>
<rect class="box" x="1681.429" y="0" width="57.143" height="345"/>
<rect class="box" x="1824.286" y="0" width="57.143" height="345"/>
<rect class="box" x="1910" y="0" width="28.571" height="345"/>
</g>
<g id="num5">
<circle class="dot" cx="552.86" cy="-13" r="2.3"/><circle class="dot" cx="838.57" cy="-13" r="2.3"/><circle class="dot" cx="1124.29" cy="-13" r="2.3"/><circle class="dot" cx="1410" cy="-13" r="2.3"/><circle class="dot" cx="1695.71" cy="-13" r="2.3"/>
<g transform="scale(1.5,1)">
<text class="num" x="318.5" y="-26">210</text>
<text class="num" x="508.9" y="-26">220</text>
<text class="num" x="699.4" y="-26">230</text>
<text class="num" x="889.9" y="-26">240</text>
<text class="num" x="1080.3" y="-26">250</text>
</g>
</g>
<g id="seq5">
<text class="sq" x="515.286" y="29"><tspan class="w">K</tspan>EA<tspan class="r">VN</tspan>RS<tspan class="r">Y</tspan><tspan class="w">E</tspan>VP<tspan class="w">L</tspan>R<tspan class="r">E</tspan><tspan class="w">G</tspan><tspan class="r">L</tspan>LF<tspan class="w">E</tspan><tspan class="r">R</tspan>R<tspan class="r">VF</tspan>QS<tspan class="r">LFATED</tspan>Q<tspan class="r">K</tspan><tspan class="w">EG</tspan><tspan class="r">M</tspan>S<tspan class="w">AF</tspan><tspan class="r">A</tspan>E<tspan class="w">KR</tspan>EAQ<tspan class="w">F</tspan><tspan class="r">R</tspan>D<tspan class="r">K</tspan></text>
<text class="sq" x="515.286" y="67.33"><tspan class="w">K</tspan>SA<tspan class="r">VN</tspan>AA<tspan class="r">F</tspan><tspan class="w">E</tspan>TP<tspan class="w">L</tspan>A<tspan class="r">E</tspan><tspan class="w">G</tspan><tspan class="r">L</tspan>RQ<tspan class="w">E</tspan><tspan class="r">R</tspan>L<tspan class="r">LF</tspan>QA<tspan class="r">AFATE</tspan>GQ<tspan class="r">K</tspan><tspan class="w">EG</tspan><tspan class="r">M</tspan>S<tspan class="w">AF</tspan><tspan class="r">V</tspan>K<tspan class="w">KR</tspan>APV<tspan class="w">F</tspan><tspan class="r">R</tspan>H<tspan class="r">R</tspan></text>
<text class="sq" x="515.286" y="105.67"><tspan class="w">K</tspan>QA<tspan class="r">L</tspan>RQSQ<tspan class="w">E</tspan>VA<tspan class="w">L</tspan>QA<tspan class="w">G</tspan><tspan class="r">L</tspan>AQ<tspan class="w">E</tspan><tspan class="r">R</tspan>Q<tspan class="r">LF</tspan>TL<tspan class="r">LAATED</tspan>R<tspan class="r">H</tspan><tspan class="w">EG</tspan><tspan class="r">I</tspan>S<tspan class="w">AF</tspan><tspan class="r">L</tspan>Q<tspan class="w">KR</tspan>TPD<tspan class="w">F</tspan><tspan class="r">K</tspan>G<tspan class="r">R</tspan></text>
<text class="sq" x="515.286" y="144"><tspan class="w">K</tspan>EA<tspan class="r">VN</tspan>RS<tspan class="r">Y</tspan><tspan class="w">E</tspan>TT<tspan class="w">L</tspan>S<tspan class="r">E</tspan><tspan class="w">G</tspan><tspan class="r">L</tspan>LF<tspan class="w">E</tspan><tspan class="r">R</tspan>R<tspan class="r">VF</tspan>HS<tspan class="r">MFATED</tspan>Q<tspan class="r">K</tspan><tspan class="w">EG</tspan><tspan class="r">M</tspan>A<tspan class="w">AF</tspan><tspan class="r">L</tspan>E<tspan class="w">KR</tspan>AAQ<tspan class="w">F</tspan><tspan class="r">R</tspan>D<tspan class="r">K</tspan></text>
<text class="sq" x="515.286" y="182.33"><tspan class="w">K</tspan>ES<tspan class="r">VN</tspan>AA<tspan class="r">F</tspan><tspan class="w">E</tspan>MT<tspan class="w">L</tspan>T<tspan class="r">E</tspan><tspan class="w">G</tspan>NKL<tspan class="w">E</tspan><tspan class="r">K</tspan>K<tspan class="r">LF</tspan>YST<tspan class="r">FATDD</tspan>R<tspan class="r">R</tspan><tspan class="w">EG</tspan><tspan class="r">M</tspan>S<tspan class="w">AF</tspan><tspan class="r">V</tspan>E<tspan class="w">KR</tspan>KAN<tspan class="w">F</tspan><tspan class="r">K</tspan>D<tspan class="r">H</tspan></text>
<text class="sq" x="515.286" y="220.67"><tspan class="w">K</tspan>ES<tspan class="r">VN</tspan>RS<tspan class="r">Y</tspan><tspan class="w">E</tspan>TT<tspan class="w">L</tspan>Q<tspan class="r">E</tspan><tspan class="w">G</tspan><tspan class="r">L</tspan>LF<tspan class="w">E</tspan><tspan class="r">R</tspan>R<tspan class="r">AF</tspan>HS<tspan class="r">LFATED</tspan>Q<tspan class="r">K</tspan><tspan class="w">EG</tspan><tspan class="r">M</tspan>A<tspan class="w">AF</tspan><tspan class="r">L</tspan>E<tspan class="w">KR</tspan>EPQ<tspan class="w">F</tspan><tspan class="r">R</tspan>D<tspan class="r">R</tspan></text>
<text class="sq" x="515.286" y="259"><tspan class="w">K</tspan>EA<tspan class="r">VN</tspan>RA<tspan class="r">Y</tspan><tspan class="w">E</tspan>TT<tspan class="w">L</tspan>D<tspan class="r">E</tspan><tspan class="w">G</tspan><tspan class="r">L</tspan>RY<tspan class="w">E</tspan><tspan class="r">R</tspan>R<tspan class="r">LF</tspan>HS<tspan class="r">LFATED</tspan>Q<tspan class="r">K</tspan><tspan class="w">EG</tspan><tspan class="r">M</tspan>S<tspan class="w">AF</tspan><tspan class="r">V</tspan>D<tspan class="w">KR</tspan>TPS<tspan class="w">F</tspan><tspan class="r">K</tspan>N<tspan class="r">R</tspan></text>
<text class="sq" x="515.286" y="297.33"><tspan class="w">K</tspan>ES<tspan class="r">VN</tspan>RA<tspan class="r">F</tspan><tspan class="w">E</tspan>VS<tspan class="w">L</tspan>S<tspan class="r">E</tspan><tspan class="w">G</tspan><tspan class="r">V</tspan>RF<tspan class="w">E</tspan><tspan class="r">R</tspan>R<tspan class="r">VF</tspan>HA<tspan class="r">AFATED</tspan>Q<tspan class="r">K</tspan><tspan class="w">EG</tspan><tspan class="r">M</tspan>A<tspan class="w">AF</tspan><tspan class="r">I</tspan>A<tspan class="w">KR</tspan>EAQ<tspan class="w">F</tspan><tspan class="r">K</tspan>DQ</text>
<text class="sq" x="515.286" y="335.67"><tspan class="w">K</tspan>QA<tspan class="r">I</tspan>ARGC<tspan class="w">E</tspan>MS<tspan class="w">L</tspan>A<tspan class="r">D</tspan><tspan class="w">G</tspan><tspan class="r">L</tspan>AF<tspan class="w">E</tspan>IE<tspan class="r">AY</tspan>NRTVP<tspan class="r">S</tspan>A<tspan class="r">D</tspan>RQ<tspan class="w">EG</tspan><tspan class="r">I</tspan>E<tspan class="w">AF</tspan>NE<tspan class="w">KR</tspan>KPR<tspan class="w">F</tspan><tspan class="r">K</tspan>GV</text>
</g>
<use xlink:href="#names" href="#names" transform="translate(8,0) scale(1.13,1)"/>
</g>
</svg>
